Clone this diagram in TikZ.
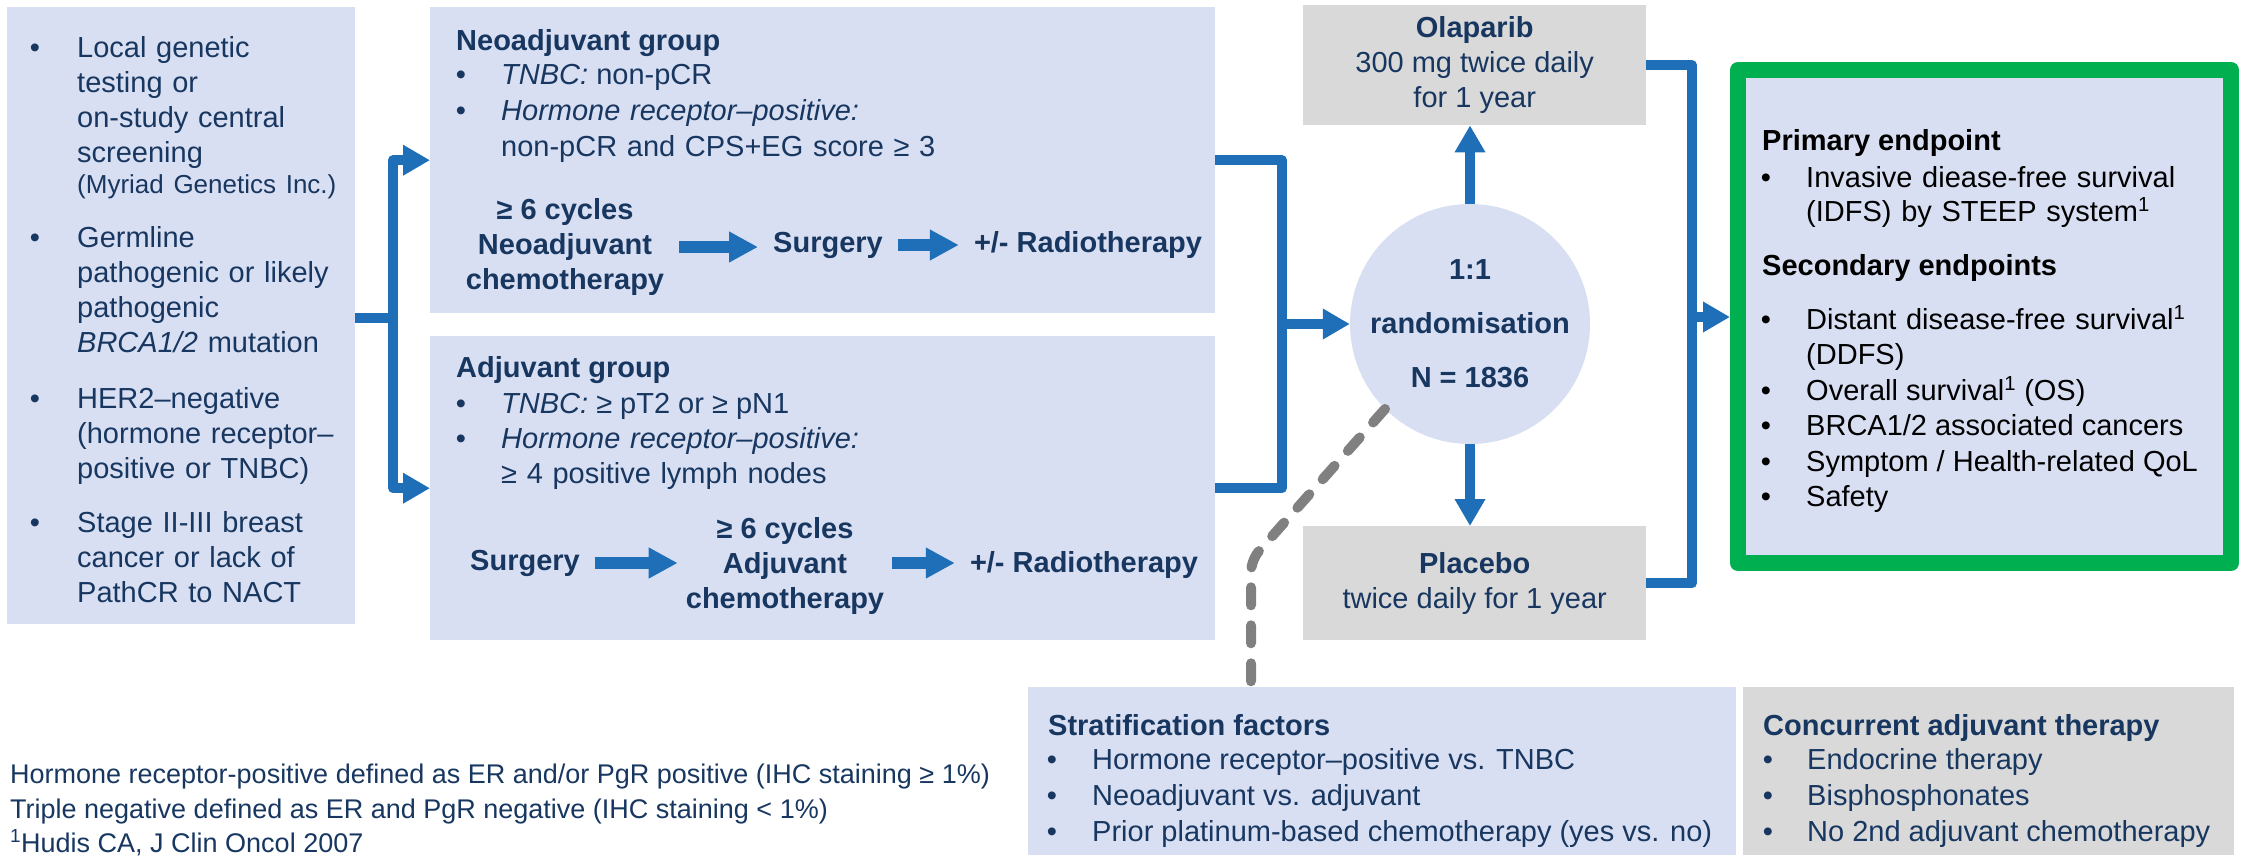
\documentclass[tikz,border=0pt]{standalone}
\usepackage{fontspec}
\setmainfont{Liberation Sans}
\usetikzlibrary{arrows.meta}
\definecolor{boxblue}{RGB}{217,223,242}
\definecolor{boxgray}{RGB}{217,217,217}
\definecolor{linkblue}{RGB}{31,111,184}
\definecolor{navy}{RGB}{24,55,96}
\definecolor{endgreen}{RGB}{0,176,80}
\definecolor{dashgray}{RGB}{128,128,128}
\begin{document}
\begin{tikzpicture}[x=1pt, y=-1pt, line join=round,
	font=\fontsize{29}{35}\selectfont, text=navy,
	bluebox/.style={fill=boxblue, anchor=north west, inner sep=0pt},
	graybox/.style={fill=boxgray, anchor=north west, inner sep=0pt},
	txt/.style={anchor=base west, inner sep=0pt},
	head/.style={txt, font=\fontsize{29}{35}\selectfont\bfseries},
	bullettext/.style={anchor=base west, inner sep=0pt, text width=600pt, align=left},
	bul/.style={anchor=base, inner sep=0pt},
	flowtxt/.style={font=\fontsize{29}{35}\selectfont\bfseries, align=center, inner xsep=15pt, inner ysep=0pt},
	flow/.style={draw=linkblue, line width=12pt, -{Triangle[length=29pt,width=29pt]}},
	conn/.style={draw=linkblue, line width=10pt},
	linkarrow/.style={conn, -{Triangle[length=27pt,width=29pt]}},
	linkboth/.style={conn, {Triangle[length=27pt,width=29pt]}-{Triangle[length=27pt,width=29pt]}},
	dashline/.style={draw=dashgray, line width=10pt, line cap=round, dash pattern=on 18pt off 20pt, rounded corners=12pt}]
	\useasboundingbox (0,0) rectangle (2244,855);

	% inclusion criteria
	\node[bluebox, minimum width=348pt, minimum height=617pt] (incl) at (7,7) {};
	\foreach \y in {57,247,408,532}
		\node[bul] (ib\y) at (35,\y) {\textbullet};
	\node[bullettext] (inc1) at (77,57) {Local genetic\\testing or\\on-study central\\screening\\[-4pt]{\fontsize{26}{31}\selectfont(Myriad Genetics Inc.)}};
	\node[bullettext] (inc2) at (77,247) {Germline\\pathogenic or likely\\pathogenic\\\textit{BRCA1/2} mutation};
	\node[bullettext] (inc3) at (77,408) {HER2–negative\\(hormone receptor–\\positive or TNBC)};
	\node[bullettext] (inc4) at (77,532) {Stage II-III breast\\cancer or lack of\\PathCR to NACT};

	% neoadjuvant group
	\node[bluebox, minimum width=785pt, minimum height=306pt] (neo) at (430,7) {};
	\node[head] (neotitle) at (456,50) {Neoadjuvant group};
	\foreach \y in {84,120}
		\node[bul] (nb\y) at (461,\y) {\textbullet};
	\node[txt] (neo1) at (501,84) {\textit{TNBC:} non-pCR};
	\node[bullettext] (neo2) at (501,120) {\textit{Hormone receptor–positive:}\\[1pt]non-pCR and CPS+EG score ≥ 3};
	\node[flowtxt] (nchemo) at (565,247) {≥ 6 cycles\\Neoadjuvant\\chemotherapy};
	\node[flowtxt] (nsurg) at (828,245) {Surgery};
	\node[flowtxt] (nradio) at (1088,245) {+/- Radiotherapy};
	\draw[flow] (nchemo.east) -- (nchemo.east -| nsurg.west);
	\draw[flow] (nsurg) -- (nradio);

	% adjuvant group
	\node[bluebox, minimum width=785pt, minimum height=304pt] (adj) at (430,336) {};
	\node[head] (adjtitle) at (456,377) {Adjuvant group};
	\foreach \y in {413,448}
		\node[bul] (ab\y) at (461,\y) {\textbullet};
	\node[txt] (adj1) at (501,413) {\textit{TNBC:} ≥ pT2 or ≥ pN1};
	\node[bullettext] (adj2) at (501,448) {\textit{Hormone receptor–positive:}\\≥ 4 positive lymph nodes};
	\node[flowtxt] (asurg) at (525,563) {Surgery};
	\node[flowtxt, inner xsep=8pt] (achemo) at (785,566) {≥ 6 cycles\\Adjuvant\\chemotherapy};
	\node[flowtxt] (aradio) at (1084,565) {+/- Radiotherapy};
	\draw[flow] (asurg) -- (asurg -| achemo.west);
	\draw[flow] (achemo.east |- asurg) -- (aradio.west |- asurg);

	% arms
	\node[graybox, minimum width=343pt, minimum height=120pt, align=center] (ola) at (1303,5) {\textbf{Olaparib}\\300 mg twice daily\\for 1 year};
	\node[graybox, minimum width=343pt, minimum height=114pt, align=center] (plac) at (1303,526) {\textbf{Placebo}\\twice daily for 1 year};
	\node[circle, fill=boxblue, minimum size=240pt, inner sep=0pt, align=center, font=\fontsize{29}{54}\selectfont\bfseries] (rand) at (1470,324) {1:1\\randomisation\\N = 1836};

	% endpoints
	\node[draw=endgreen, line width=16pt, fill=boxblue, minimum width=493pt, minimum height=493pt, inner sep=0pt] (endp) at (1984.5,316.5) {};
	\node[head, text=black] (prim) at (1762,150) {Primary endpoint};
	\node[head, text=black] (sec) at (1762,275) {Secondary endpoints};
	\foreach \y in {187,329,400,435,471,506}
		\node[bul, text=black] (eb\y) at (1766,\y) {\textbullet};
	\node[bullettext, text=black] (prim1) at (1806,187) {Invasive diease-free survival\\[-1pt](IDFS) by STEEP system\textsuperscript{1}};
	\node[bullettext, text=black] (sec1) at (1806,329) {Distant disease-free survival\textsuperscript{1}\\(DDFS)};
	\node[txt, text=black] (sec2) at (1806,400) {Overall survival\textsuperscript{1} (OS)};
	\node[txt, text=black] (sec3) at (1806,435) {BRCA1/2 associated cancers};
	\node[txt, text=black] (sec4) at (1806,471) {Symptom / Health-related QoL};
	\node[txt, text=black] (sec5) at (1806,506) {Safety};

	% stratification and concurrent therapy
	\node[bluebox, minimum width=708pt, minimum height=168pt] (strat) at (1028,687) {};
	\node[head] (strattitle) at (1048,735) {Stratification factors};
	\node[graybox, minimum width=491pt, minimum height=168pt] (conc) at (1743,687) {};
	\node[head] (conctitle) at (1763,735) {Concurrent adjuvant therapy};
	\foreach \y in {769,805,841} {
		\node[bul] (sb\y) at (1052,\y) {\textbullet};
		\node[bul] (cb\y) at (1768,\y) {\textbullet};
	}
	\node[txt] (strat1) at (1092,769) {Hormone receptor–positive vs. TNBC};
	\node[txt] (strat2) at (1092,805) {Neoadjuvant vs. adjuvant};
	\node[txt] (strat3) at (1092,841) {Prior platinum-based chemotherapy (yes vs. no)};
	\node[txt] (conc1) at (1807,769) {Endocrine therapy};
	\node[txt] (conc2) at (1807,805) {Bisphosphonates};
	\node[txt] (conc3) at (1807,841) {No 2nd adjuvant chemotherapy};

	% footnotes
	\node[txt, font=\fontsize{27}{35}\selectfont] (fn1) at (10,783) {Hormone receptor-positive defined as ER and/or PgR positive (IHC staining ≥ 1\%)};
	\node[txt, font=\fontsize{27}{35}\selectfont] (fn2) at (10,818) {Triple negative defined as ER and PgR negative (IHC staining < 1\%)};
	\node[txt, font=\fontsize{27}{35}\selectfont] (fn3) at (10,852) {\textsuperscript{1}Hudis CA, J Clin Oncol 2007};

	% connectors
	\coordinate (jl) at (393,318);
	\coordinate (jm) at (1282,324);
	\coordinate (jr) at (1692,317);
	\coordinate (bend) at (1251,560);
	\draw[conn] (incl.east |- jl) -- (jl);
	\draw[linkboth] (neo.west) -| (jl) |- (adj.west);
	\draw[conn] (neo.east) -| (jm) |- (adj.east);
	\draw[linkarrow] (jm) -- (rand.west);
	\draw[linkarrow] (rand.north) -- (rand.north |- ola.south);
	\draw[linkarrow] (rand.south) -- (rand.south |- plac.north);
	\draw[conn] (ola.east) -| (jr) |- (plac.east);
	\draw[linkarrow] (jr) -- (endp.west |- jr);
	\draw[dashline] (rand.225) -- (bend) -- (bend |- strat.north);
\end{tikzpicture}
\end{document}
